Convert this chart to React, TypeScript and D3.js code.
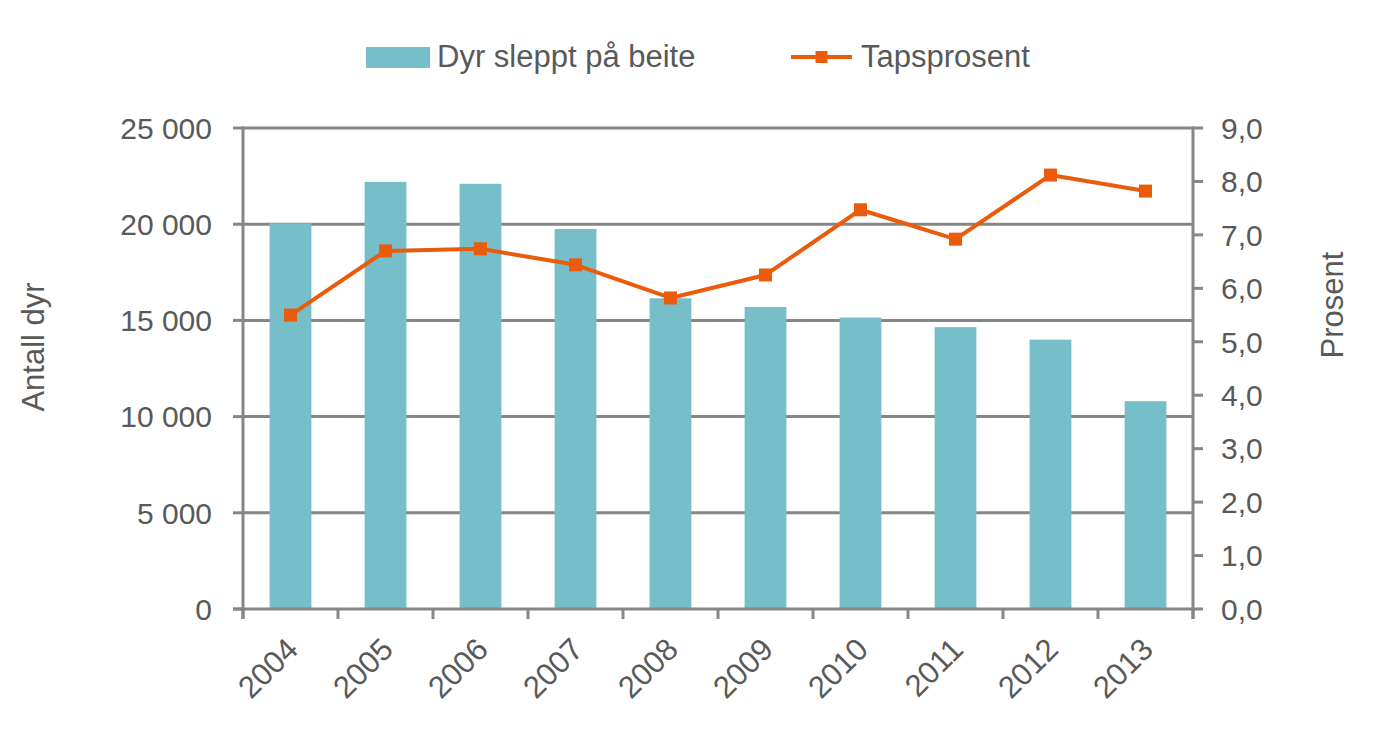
import React from "react";
import * as d3 from "d3";

const years = ["2004", "2005", "2006", "2007", "2008", "2009", "2010", "2011", "2012", "2013"];
const animals = [20050, 22200, 22100, 19750, 16150, 15700, 15150, 14650, 14000, 10800];
const lossPct = [5.5, 6.7, 6.74, 6.44, 5.82, 6.25, 7.47, 6.92, 8.12, 7.82];
const leftTicks = [0, 5000, 10000, 15000, 20000, 25000];
const rightTicks = [0, 1, 2, 3, 4, 5, 6, 7, 8, 9];
const barLabel = "Dyr sleppt på beite";
const lineLabel = "Tapsprosent";
const leftTitle = "Antall dyr";
const rightTitle = "Prosent";

const W = 1384, H = 755;
const M = { left: 243, right: 1193, top: 128, bottom: 609 };
const GRAY = "#868686";
const TXT = "#595959";
const BAR = "#76BFC8";
const LINE = "#EA5B0C";
const FONT = "'Liberation Sans', Arial, sans-serif";

export default function App() {
  const x = d3.scaleBand().domain(years).range([M.left, M.right]).paddingInner(0.56).paddingOuter(0.28);
  const band = d3.scaleBand().domain(years).range([M.left, M.right]);
  const yL = d3.scaleLinear().domain([0, 25000]).range([M.bottom, M.top]);
  const yR = d3.scaleLinear().domain([0, 9]).range([M.bottom, M.top]);
  const fmtL = (v: number) => d3.format(",")(v).replace(/,/g, " ");
  const fmtR = (v: number) => d3.format(".1f")(v).replace(".", ",");
  const line = d3.line<number>()
    .x((_, i) => (band(years[i]) as number) + band.bandwidth() / 2)
    .y((d) => yR(d));
  const boundaries = d3.range(years.length + 1).map((i) => M.left + i * band.bandwidth());
  const ms = 13;

  return (
    <svg width={W} height={H} style={{ display: "block", position: "absolute", left: 0, top: 0 }} fontFamily={FONT}>
      <rect width={W} height={H} fill="#fff" />
      {/* gridlines */}
      {leftTicks.filter((t) => t > 0).map((t) => (
        <line key={"g" + t} x1={M.left} x2={M.right} y1={yL(t)} y2={yL(t)} stroke={GRAY} strokeWidth={3} />
      ))}
      {/* bars */}
      {animals.map((v, i) => (
        <rect key={"b" + i} x={x(years[i])} y={yL(v)} width={x.bandwidth()} height={M.bottom - yL(v)} fill={BAR} />
      ))}
      {/* axes */}
      <line x1={M.left} x2={M.left} y1={M.top - 1.5} y2={M.bottom + 10} stroke={GRAY} strokeWidth={3} />
      <line x1={M.right} x2={M.right} y1={M.top - 1.5} y2={M.bottom + 10} stroke={GRAY} strokeWidth={3} />
      <line x1={M.left - 10} x2={M.right + 1.5} y1={M.bottom} y2={M.bottom} stroke={GRAY} strokeWidth={3} />
      {leftTicks.map((t) => (
        <g key={"l" + t}>
          <line x1={M.left - 10} x2={M.left} y1={yL(t)} y2={yL(t)} stroke={GRAY} strokeWidth={3} />
          <text x={M.left - 31} y={yL(t)} dy="0.36em" textAnchor="end" fontSize={30} fill={TXT}>{fmtL(t)}</text>
        </g>
      ))}
      {rightTicks.map((t) => (
        <g key={"r" + t}>
          <line x1={M.right} x2={M.right + 10} y1={yR(t)} y2={yR(t)} stroke={GRAY} strokeWidth={3} />
          <text x={M.right + 28} y={yR(t)} dy="0.36em" textAnchor="start" fontSize={30} fill={TXT}>{fmtR(t)}</text>
        </g>
      ))}
      {boundaries.map((bx, i) => (
        <line key={"t" + i} x1={bx} x2={bx} y1={M.bottom} y2={M.bottom + 10} stroke={GRAY} strokeWidth={3} />
      ))}
      {years.map((yr) => {
        const cx = (band(yr) as number) + band.bandwidth() / 2;
        return (
          <text key={"x" + yr} transform={`translate(${cx - 6},${M.bottom + 27}) rotate(-45)`} textAnchor="end" dy="0.7em" fontSize={31} fill={TXT}>{yr}</text>
        );
      })}
      {/* line series */}
      <path d={line(lossPct) as string} fill="none" stroke={LINE} strokeWidth={4} strokeLinejoin="round" />
      {lossPct.map((v, i) => {
        const cx = (band(years[i]) as number) + band.bandwidth() / 2;
        return <rect key={"m" + i} x={cx - ms / 2} y={yR(v) - ms / 2} width={ms} height={ms} fill={LINE} />;
      })}
      {/* axis titles */}
      <text transform={`translate(44,347) rotate(-90)`} textAnchor="middle" fontSize={31} fill={TXT}>{leftTitle}</text>
      <text transform={`translate(1343,305) rotate(-90)`} textAnchor="middle" fontSize={31} fill={TXT}>{rightTitle}</text>
      {/* legend */}
      <rect x={366} y={47} width={64} height={21} fill={BAR} />
      <text x={437} y={67} fontSize={31} fill={TXT}>{barLabel}</text>
      <line x1={791} x2={852} y1={57} y2={57} stroke={LINE} strokeWidth={4} />
      <rect x={821.5 - 6} y={57 - 6} width={12} height={12} fill={LINE} />
      <text x={861} y={67} fontSize={31} fill={TXT}>{lineLabel}</text>
    </svg>
  );
}
